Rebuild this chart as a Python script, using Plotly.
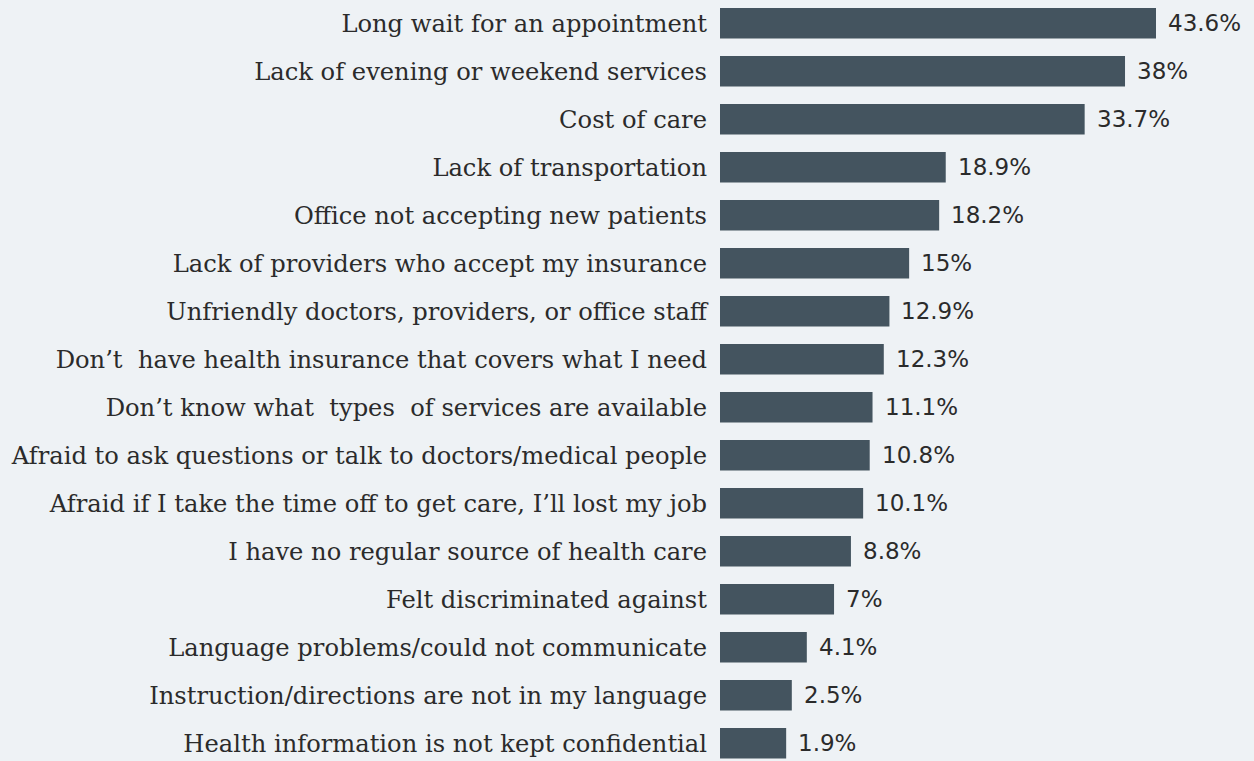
import plotly.graph_objects as go

categories = [
    "Long wait for an appointment",
    "Lack of evening or weekend services",
    "Cost of care",
    "Lack of transportation",
    "Office not accepting new patients",
    "Lack of providers who accept my insurance",
    "Unfriendly doctors, providers, or office staff",
    "Don’t\u00a0 have health insurance that covers what I need",
    "Don’t know what\u00a0 types\u00a0 of services are available",
    "Afraid to ask questions or talk to doctors/medical people",
    "Afraid if I take the time off to get care, I’ll lost my job",
    "I have no regular source of health care",
    "Felt discriminated against",
    "Language problems/could not communicate",
    "Instruction/directions are not in my language",
    "Health information is not kept confidential",
]
values = [43.6, 38, 33.7, 18.9, 18.2, 15, 12.9, 12.3, 11.1, 10.8, 10.1, 8.8, 7, 4.1, 2.5, 1.9]
value_labels = [f"{v:g}%" for v in values]

BG = "#eef2f5"
BAR = "#44545f"
TXT = "#2b2b2b"
BAR_BASE = -5.15
X_MAX = 41.3

fig = go.Figure()
fig.add_trace(go.Bar(
    y=categories,
    x=[v - BAR_BASE for v in values],
    base=BAR_BASE,
    orientation="h",
    marker=dict(color=BAR, line=dict(width=0)),
    hoverinfo="skip",
))

for cat, v, lab in zip(categories, values, value_labels):
    fig.add_annotation(
        x=min(v, X_MAX), y=cat, xref="x", yref="y",
        text=lab, showarrow=False, xanchor="left", yanchor="middle",
        xshift=10,
        font=dict(family="DejaVu Sans", size=23, color=TXT),
    )

fig.update_layout(
    width=1254, height=761,
    margin=dict(l=720, r=98, t=0, b=0),
    paper_bgcolor=BG, plot_bgcolor=BG,
    showlegend=False,
    bargap=0.365,
)
fig.update_xaxes(range=[BAR_BASE, X_MAX], visible=False, fixedrange=True)
fig.update_yaxes(
    categoryorder="array", categoryarray=categories,
    range=[15.369, -0.485], autorange=False,
    showgrid=False, zeroline=False, showline=False, ticks="",
    ticklabelstandoff=12,
    tickfont=dict(family="DejaVu Serif", size=24.2, color=TXT),
    automargin=False, fixedrange=True,
)

fig.write_html(
    "out.html",
    config={"displayModeBar": False, "staticPlot": True},
    post_script="document.body.style.margin='0';document.body.style.background='" + BG + "';",
)
